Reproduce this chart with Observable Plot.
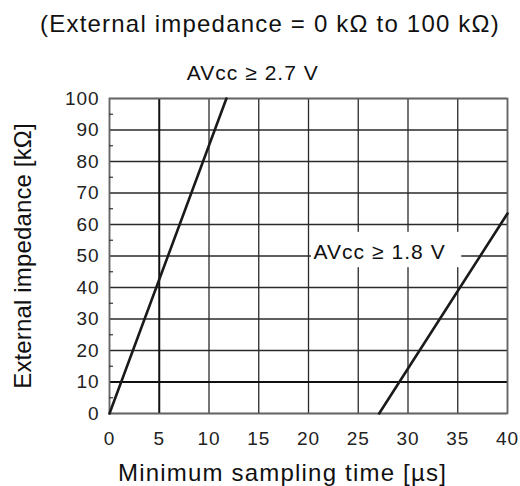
<!DOCTYPE html>
<html>
<head>
<meta charset="utf-8">
<script src="https://cdn.jsdelivr.net/npm/d3@7"></script>
<script src="https://cdn.jsdelivr.net/npm/@observablehq/plot@0.6"></script>
<style>
  body { margin: 0; background: #fff; font-family: "Liberation Sans", Arial, sans-serif; }
  #title { width: 500px; height: 38px; padding-top: 4px; padding-left: 20px; line-height: 40px; text-align: center;
           box-sizing: content-box; font-size: 24px; letter-spacing: 1.2px; color: #111; white-space: nowrap; }
</style>
</head>
<body>
<div id="title">(External impedance = 0 kΩ to 100 kΩ)</div>
<div id="chart"></div>
<script>
// Data
const xTicks = [0, 5, 10, 15, 20, 25, 30, 35, 40];
const yTicks = [0, 10, 20, 30, 40, 50, 60, 70, 80, 90, 100];
const yMinor = [5, 15, 25, 35, 45, 55, 65, 75, 85, 95];
const boldX = [5];
const boldY = [10];
const line27 = [{x: 0, y: 0}, {x: 11.75, y: 100}];
const line18 = [{x: 27.1, y: 0}, {x: 40, y: 63.5}];
const label27 = [{x: 14.4, y: 100, text: "AVcc ≥ 2.7 V"}];
const label18 = [{x: 20.5, y: 51.2, text: "AVcc ≥ 1.8 V"}];
const label18Box = [{x1: 20.3, x2: 35.4, y1: 46.3, y2: 57.5}];
const xLabel = "Minimum sampling time [µs]";
const yLabel = "External impedance [kΩ]";

const font = "Liberation Sans, Arial, sans-serif";
const chart = Plot.plot({
  width: 520,
  height: 444,
  marginLeft: 109,
  marginRight: 13,
  marginTop: 56,
  marginBottom: 73,
  style: {fontFamily: font, color: "#222", background: "#fff", overflow: "visible"},
  x: {domain: [0, 40]},
  y: {domain: [0, 100]},
  marks: [
    Plot.ruleX(xTicks.filter(d => !boldX.includes(d)), {stroke: "#2a2a2a", strokeWidth: 1.3}),
    Plot.ruleY(yTicks.filter(d => !boldY.includes(d)), {stroke: "#2a2a2a", strokeWidth: 1.3}),
    Plot.ruleX(boldX, {stroke: "#111", strokeWidth: 2}),
    Plot.ruleY(boldY, {stroke: "#111", strokeWidth: 2}),
    Plot.rect(label18Box, {x1: "x1", x2: "x2", y1: "y1", y2: "y2", fill: "#fff"}),
    Plot.frame({stroke: "#666", strokeWidth: 1.6}),
    Plot.axisY({ticks: yMinor, tickSize: -4, text: null, stroke: "#333", strokeWidth: 1.2}),
    Plot.axisX({ticks: xTicks, tickSize: 0, tickPadding: 18, fontSize: 19, label: null, fill: "#222"}),
    Plot.axisY({ticks: yTicks, tickSize: 0, tickPadding: 10, fontSize: 19, label: null, fill: "#222"}),
    Plot.line(line27, {x: "x", y: "y", stroke: "#1a1a1a", strokeWidth: 2.6}),
    Plot.line(line18, {x: "x", y: "y", stroke: "#1a1a1a", strokeWidth: 2.6}),
    Plot.text(label27, {x: "x", y: "y", text: "text", fontSize: 21, dy: -25.5, lineAnchor: "middle", textAnchor: "middle", fill: "#111"}),
    Plot.text(label18, {x: "x", y: "y", text: "text", fontSize: 21, lineAnchor: "middle", textAnchor: "start", fill: "#111"}),
    Plot.text([xLabel], {frameAnchor: "bottom", dx: -26, dy: 60, fontSize: 24, lineAnchor: "middle", textAnchor: "middle", fill: "#111"}),
    Plot.text([yLabel], {frameAnchor: "left", dx: -86, rotate: -90, fontSize: 24, lineAnchor: "middle", textAnchor: "middle", fill: "#111"})
  ]
});
document.getElementById("chart").append(chart);
// widen glyph spacing a little to match the reference lettering
chart.querySelectorAll("text").forEach(el => {
  if (el.textContent === yLabel) { el.style.letterSpacing = "0.15px"; return; }
  const fs = parseFloat(getComputedStyle(el).fontSize);
  el.style.letterSpacing = (fs * 0.05).toFixed(2) + "px";
});
</script>
</body>
</html>
